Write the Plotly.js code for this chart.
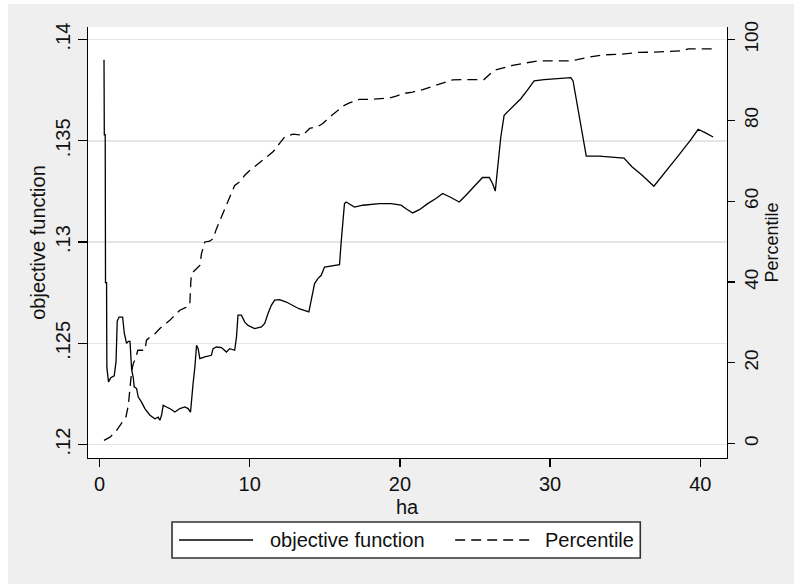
<!DOCTYPE html>
<html>
<head>
<meta charset="utf-8">
<script src="https://cdn.plot.ly/plotly-3.0.1.min.js"></script>
<style>
  html, body { margin: 0; padding: 0; background: #ffffff; }
  #chart { position: absolute; left: 8px; top: 4px; width: 786px; height: 580px; }
</style>
</head>
<body>
<div id="chart"></div>
<script>
// ---- data ----
const haObj = [0.30, 0.32, 0.38, 0.40, 0.47, 0.49, 0.60, 0.75, 0.98, 1.10, 1.18, 1.30, 1.54, 1.65, 1.80, 1.92, 2.03, 2.09, 2.14, 2.25,
  2.31, 2.47, 2.58, 2.80, 3.02, 3.36, 3.69, 3.91, 4.02, 4.13, 4.24, 4.46, 4.68, 5.02, 5.35, 5.68, 5.90, 6.06, 6.12, 6.23,
  6.35, 6.46, 6.57, 6.68, 7.01, 7.45, 7.56, 7.79, 8.12, 8.45, 8.67, 9.00, 9.12, 9.22, 9.45, 9.67, 9.89, 10.33, 10.78, 11.00,
  11.22, 11.44, 11.66, 11.99, 12.44, 12.88, 13.28, 13.94, 14.10, 14.32, 14.54, 14.76, 14.98, 15.98, 16.09, 16.20, 16.31, 16.42, 16.98, 17.53,
  18.64, 19.42, 20.08, 20.41, 20.85, 21.30, 21.85, 22.40, 22.85, 23.40, 23.95, 24.40, 24.95, 25.50, 25.95, 26.17, 26.35, 26.50, 26.72, 26.94,
  27.50, 28.05, 28.49, 28.94, 29.60, 30.60, 31.38, 31.53, 31.71, 31.93, 32.15, 32.41, 33.26, 34.14, 34.92, 35.47, 36.13, 36.91, 37.69, 38.57,
  39.35, 39.86, 40.35, 40.86];
const objective = [0.1390, 0.1353, 0.1353, 0.1280, 0.1280, 0.1238, 0.1231, 0.1233, 0.1234, 0.1241, 0.1261, 0.1263, 0.1263, 0.1255, 0.1250, 0.1251, 0.1251, 0.1245, 0.1237, 0.1233,
  0.12285, 0.12277, 0.12235, 0.1221, 0.12178, 0.12145, 0.12128, 0.12136, 0.1212, 0.12145, 0.12194, 0.12186, 0.12178, 0.12161, 0.12178, 0.12186, 0.12178, 0.1216, 0.12219, 0.12301,
  0.12383, 0.1249, 0.12474, 0.12425, 0.12433, 0.12441, 0.12474, 0.12482, 0.12479, 0.12457, 0.12474, 0.12466, 0.12531, 0.12639, 0.12639, 0.12605, 0.12589, 0.12573, 0.12581, 0.12598,
  0.12647, 0.12688, 0.12713, 0.12716, 0.12704, 0.12688, 0.12671, 0.12655, 0.12713, 0.12795, 0.1282, 0.12836, 0.12877, 0.12889, 0.1300, 0.13107, 0.1319, 0.13198, 0.13173, 0.13182,
  0.1319, 0.1319, 0.13182, 0.13165, 0.13144, 0.1316, 0.1319, 0.13215, 0.1324, 0.1322, 0.13198, 0.13231, 0.13276, 0.13319, 0.13319, 0.13289, 0.13252, 0.13371, 0.13519, 0.13626,
  0.13667, 0.13708, 0.1375, 0.13796, 0.13802, 0.13807, 0.13812, 0.13796, 0.13717, 0.13618, 0.13519, 0.13424, 0.13424, 0.1342, 0.13415, 0.13371, 0.1333, 0.13276, 0.13346, 0.13429,
  0.13503, 0.13557, 0.13539, 0.13519];

const haPct = [0.30, 0.70, 1.14, 1.47, 1.76, 1.92, 2.03, 2.14, 2.25, 2.43, 2.55, 3.02, 3.13, 3.36, 3.69, 4.02, 4.35, 4.68, 5.02, 5.35,
  5.75, 6.01, 6.08, 6.13, 6.35, 6.68, 6.79, 7.01, 7.34, 7.56, 7.79, 8.12, 8.45, 8.78, 9.00, 9.34, 9.67, 10.00, 10.44, 11.00,
  11.55, 11.99, 12.33, 12.88, 13.54, 13.99, 14.54, 14.87, 15.32, 15.76, 16.20, 16.64, 17.30, 17.97, 19.30, 19.75, 20.19, 20.85, 21.52, 22.18,
  22.85, 23.50, 24.40, 25.60, 26.28, 26.83, 27.50, 28.38, 29.16, 31.26, 31.81, 32.37, 33.50, 34.80, 35.90, 37.02, 38.79, 39.20, 40.86];
const percentile = [0.8, 1.6, 3.3, 5.0, 6.6, 9.5, 14.0, 18.0, 19.8, 21.4, 23.1, 23.1, 25.6, 26.4, 27.2, 28.5, 29.5, 30.5, 31.8, 33.0,
  33.7, 34.2, 40.0, 42.1, 42.9, 44.1, 47.0, 49.9, 50.1, 50.7, 53.2, 56.1, 59.0, 61.5, 63.9, 64.8, 66.4, 67.6, 68.9, 70.5,
  72.2, 74.3, 75.9, 76.6, 76.3, 78.0, 78.5, 79.2, 80.8, 82.1, 83.5, 84.3, 85.2, 85.2, 85.5, 86.0, 86.6, 87.0, 87.6, 88.4,
  89.3, 90.0, 90.1, 90.1, 92.4, 93.0, 93.6, 94.2, 94.7, 94.7, 95.0, 95.5, 96.2, 96.4, 96.8, 96.9, 97.2, 97.7, 97.7];

const xTicks = [0, 10, 20, 30, 40];
const yTicks = [0.12, 0.125, 0.13, 0.135, 0.14];
const yTickText = ['.12', '.125', '.13', '.135', '.14'];
const y2Ticks = [0, 20, 40, 60, 80, 100];
const seriesNames = ['objective function', 'Percentile'];
const xTitle = 'ha';

// ---- chart ----
const FONT = 'Liberation Sans, Arial, sans-serif';
const TXT = '#111111';
const DASH = '10px,6px';

const traces = [
  { x: haObj, y: objective, name: seriesNames[0], type: 'scatter', mode: 'lines',
    line: { color: '#000000', width: 1.3 }, yaxis: 'y', showlegend: false, hoverinfo: 'skip' },
  { x: haPct, y: percentile, name: seriesNames[1], type: 'scatter', mode: 'lines',
    line: { color: '#000000', width: 1.3, dash: DASH }, yaxis: 'y2', showlegend: false, hoverinfo: 'skip' }
];

// legend drawn in paper coordinates (box, samples, labels)
const legY = -0.1903;
const layout = {
  width: 786, height: 580,
  margin: { l: 80, r: 67, t: 23, b: 126, pad: 0 },
  paper_bgcolor: '#efefef',
  plot_bgcolor: '#ffffff',
  font: { family: FONT, size: 20, color: TXT },
  showlegend: false,
  xaxis: {
    range: [-0.766, 41.78], tickvals: xTicks, ticktext: xTicks.map(String),
    ticks: 'outside', ticklen: 8, tickwidth: 1.3, tickcolor: '#000',
    showline: true, linecolor: '#000', linewidth: 1.3, mirror: false,
    showgrid: false, zeroline: false,
    tickfont: { family: FONT, size: 20, color: TXT }
  },
  yaxis: {
    range: [0.11934, 0.14062], tickvals: yTicks, ticktext: yTickText, tickangle: -90,
    ticks: 'outside', ticklen: 9, tickwidth: 1.3, tickcolor: '#000',
    showline: true, linecolor: '#000', linewidth: 1.3,
    showgrid: true, gridcolor: '#e6e6e6', gridwidth: 1.5, zeroline: false,
    tickfont: { family: FONT, size: 20, color: TXT },
    title: { text: seriesNames[0], font: { family: FONT, size: 20, color: TXT }, standoff: 0 }
  },
  yaxis2: {
    overlaying: 'y', side: 'right',
    range: [-3.56, 103.1], tickvals: y2Ticks, ticktext: y2Ticks.map(String), tickangle: -90,
    ticks: 'outside', ticklen: 7, tickwidth: 1.3, tickcolor: '#000',
    showline: true, linecolor: '#000', linewidth: 1.3,
    showgrid: false, zeroline: false,
    tickfont: { family: FONT, size: 19, color: TXT },
    title: { text: seriesNames[1], font: { family: FONT, size: 18, color: TXT }, standoff: 3 }
  },
  shapes: [
    { type: 'rect', xref: 'paper', yref: 'paper', x0: 0.1315, x1: 0.8643, y0: -0.232, y1: -0.1485,
      line: { color: '#333333', width: 1.6 }, fillcolor: '#ffffff', layer: 'above' },
    { type: 'line', xref: 'paper', yref: 'paper', x0: 0.1425, x1: 0.2583, y0: legY, y1: legY,
      line: { color: '#000000', width: 1.3 } },
    { type: 'line', xref: 'paper', yref: 'paper', x0: 0.5746, x1: 0.6936, y0: legY, y1: legY,
      line: { color: '#000000', width: 1.3, dash: DASH } }
  ],
  annotations: [
    { xref: 'paper', yref: 'paper', x: 0.5, y: -0.113, xanchor: 'center', yanchor: 'middle', borderpad: 0,
      text: xTitle, showarrow: false, font: { family: FONT, size: 20, color: TXT } },
    { xref: 'paper', yref: 'paper', x: 0.2818, y: legY, xanchor: 'left', yanchor: 'middle',
      text: seriesNames[0], showarrow: false, font: { family: FONT, size: 20, color: TXT } },
    { xref: 'paper', yref: 'paper', x: 0.7124, y: legY, xanchor: 'left', yanchor: 'middle',
      text: seriesNames[1], showarrow: false, font: { family: FONT, size: 20, color: TXT } }
  ]
};

Plotly.newPlot('chart', traces, layout, { staticPlot: true, displayModeBar: false });
</script>
</body>
</html>
